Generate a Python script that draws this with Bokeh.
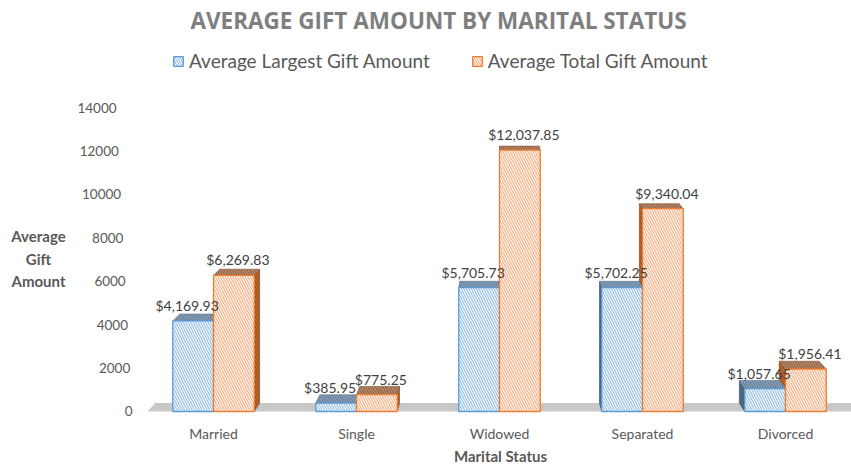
import numpy as np
from bokeh.plotting import figure
from bokeh.models import Label, Legend, LegendItem, ColumnDataSource
from bokeh.embed import file_html
from bokeh.resources import INLINE
from bokeh.core.properties import value

# ---------------- data ----------------
categories = ["Married", "Single", "Widowed", "Separated", "Divorced"]
largest_gift = [4169.93, 385.95, 5705.73, 5702.25, 1057.65]
total_gift = [6269.83, 775.25, 12037.85, 9340.04, 1956.41]
y_ticks = [0, 2000, 4000, 6000, 8000, 10000, 12000, 14000]
y_tick_labels = ["0", "2000", "4000", "6000", "8000", "10000", "12000", "14000"]
series_names = ["Average Largest Gift Amount", "Average Total Gift Amount"]
chart_title = "AVERAGE GIFT AMOUNT BY MARITAL STATUS"
x_title = "Marital Status"
y_title = "Average\nGift\nAmount"

# ---------------- style ----------------
FONT = "Lato"
TEXT = "#595959"
BAR_W = 0.285
VP_X, KX = 2.0, 0.022        # perspective: horizontal vanishing point / strength
VP_Y, KY = 22750.0, 0.0172   # perspective: vertical vanishing point / strength
FLOOR_PAD = 0.4615
AXIS_X, AXIS_SLANT = -0.566, -8.0e-6   # value-axis label anchor (3-D slant)

BLUE = dict(front="#f3f8fd", hatch="#86b4e0", line="#5b9bd5",
            top="#8aa0b6", top_h="#5f7b97", side="#56718e", side_h="#3d5670")
ORANGE = dict(front="#fff5ee", hatch="#f2a271", line="#ed7d31",
              top="#b88a6b", top_h="#8c5e3f", side="#c06a33", side_h="#8e4a20")

W, H = 851, 464


def back(x, y):
    return x + (VP_X - x) * KX, y + (VP_Y - y) * KY


p = figure(width=W, height=H, output_backend="svg", toolbar_location=None,
           x_range=(-1.4895, 4.4615), y_range=(-2441, 18928),
           x_axis_type=None, y_axis_type=None,
           min_border_left=0, min_border_right=0, min_border_top=0,
           min_border_bottom=0)
p.outline_line_color = None
p.background_fill_color = "white"
p.border_fill_color = "white"

xc = np.arange(len(categories), dtype=float)

# floor
fx0, fx1 = -FLOOR_PAD, len(categories) - 1 + FLOOR_PAD + 0.3
bx0, by = back(fx0, 0.0)
bx1, _ = back(fx1, 0.0)
p.patch([fx0, fx1, bx1, bx0], [0, 0, by, by], fill_color="#c8c8c8",
        line_color=None)


def faces(x0s, x1s, vals):
    tx, ty, sx, sy = [], [], [], []
    for x0, x1, v in zip(x0s, x1s, vals):
        b0x, bvy = back(x0, v)
        b1x, _ = back(x1, v)
        tx.append([x0, x1, b1x, b0x])
        ty.append([v, v, bvy, bvy])
        xm = (x0 + x1) / 2
        xe = x1 if xm < VP_X else x0
        bex, bty = back(xe, v)
        _, bby = back(xe, 0.0)
        sx.append([xe, xe, bex, bex])
        sy.append([0, v, bty, bby])
    return tx, ty, sx, sy


series = [
    (xc - BAR_W, xc, largest_gift, BLUE, -6),
    (xc, xc + BAR_W, total_gift, ORANGE, 4),
]

all_faces = [faces(a, b, v) for a, b, v, _, _ in series]

# side faces
for (a, b, v, col, _), (tx, ty, sx, sy) in zip(series, all_faces):
    p.patches(sx, sy, fill_color=col["side"], line_color=col["side_h"],
              line_width=0.6, hatch_pattern="left_diagonal_line",
              hatch_color=col["side_h"], hatch_scale=5, hatch_weight=1)
# top faces
for (a, b, v, col, _), (tx, ty, sx, sy) in zip(series, all_faces):
    p.patches(tx, ty, fill_color=col["top"], line_color=col["top_h"],
              line_width=0.6, hatch_pattern="left_diagonal_line",
              hatch_color=col["top_h"], hatch_scale=5, hatch_weight=1)

# front faces
fronts = []
for (a, b, v, col, _) in series:
    src = ColumnDataSource(dict(left=a, right=b, top=v, bottom=[0] * len(v)))
    r = p.quad(left="left", right="right", top="top", bottom="bottom",
               source=src, fill_color=col["front"], line_color=col["line"],
               line_width=1.3, hatch_pattern="left_diagonal_line",
               hatch_color=col["hatch"], hatch_scale=5, hatch_weight=1)
    fronts.append(r)

# data labels
for (a, b, v, col, xo) in series:
    src = ColumnDataSource(dict(x=(a + b) / 2, y=v,
                                t=["${:,.2f}".format(val) for val in v]))
    p.text(x="x", y="y", text="t", source=src, x_offset=xo, y_offset=-7,
           text_align="center", text_baseline="bottom",
           text_font=value(FONT), text_font_size="14px", text_color="#404040")

# value axis tick labels (slanted with the 3-D wall)
tick_src = ColumnDataSource(dict(
    x=[AXIS_X + AXIS_SLANT * t for t in y_ticks], y=y_ticks, t=y_tick_labels))
p.text(x="x", y="y", text="t", source=tick_src, text_align="right",
       text_baseline="middle", text_font=value(FONT), text_font_size="13.5px",
       text_color=TEXT)

# category axis labels
cat_src = ColumnDataSource(dict(x=xc, y=[0] * len(categories), t=categories))
p.text(x="x", y="y", text="t", source=cat_src, y_offset=22,
       text_align="center", text_baseline="middle", text_font=value(FONT),
       text_font_size="14px", text_color=TEXT)

# legend
legend = Legend(items=[LegendItem(label=series_names[0], renderers=[fronts[0]]),
                       LegendItem(label=series_names[1], renderers=[fronts[1]])],
                orientation="horizontal", location=(172, 392),
                glyph_width=12, glyph_height=12, label_standoff=5, spacing=41,
                padding=0, margin=0, border_line_color=None,
                background_fill_alpha=0, label_text_font=FONT,
                label_text_font_size="19px", label_text_color=TEXT)
p.add_layout(legend)

# titles
p.add_layout(Label(x=438, y=444, x_units="screen", y_units="screen",
                   text=chart_title, text_align="center", text_baseline="middle",
                   text_font="Open Sans", text_font_size="22.5px",
                   text_font_style="bold", text_color="#7f7f7f"))
p.add_layout(Label(x=38, y=206, x_units="screen", y_units="screen",
                   text=y_title, text_align="center", text_baseline="middle",
                   text_font=FONT, text_font_size="15px", text_font_style="bold",
                   text_color=TEXT, text_line_height=1.25))
p.add_layout(Label(x=500, y=9, x_units="screen", y_units="screen",
                   text=x_title, text_align="center", text_baseline="middle",
                   text_font=FONT, text_font_size="15px", text_font_style="bold",
                   text_color=TEXT))

open("out.html", "w").write(file_html(p, INLINE))
